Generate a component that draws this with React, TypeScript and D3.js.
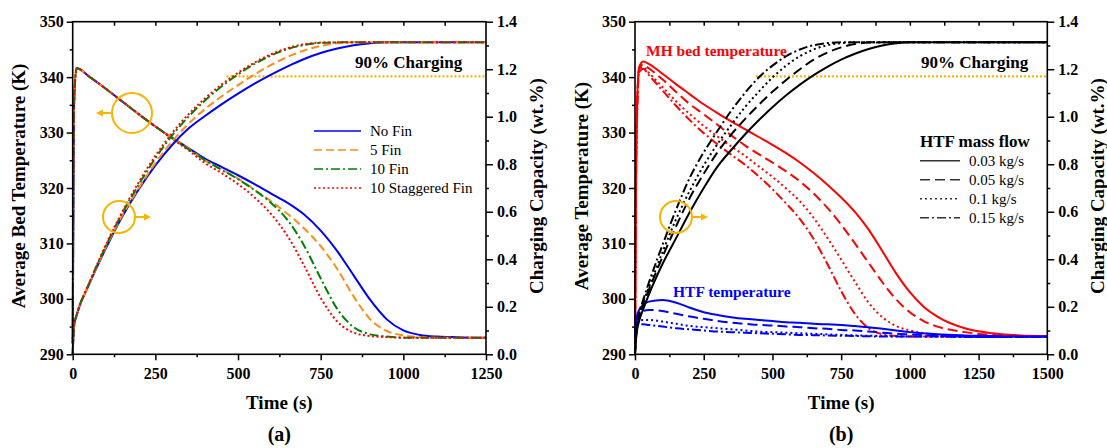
import React, { Component } from 'react';
import * as d3 from 'd3';

const W = 1107;
const H = 448;
const TOP = 21.7;
const BOTTOM = 354.3;
const FONT = '"Liberation Serif", "Times New Roman", serif';

// ---- panel (a): fin configurations ----
const timeA = [0, 4, 12, 50, 100, 150, 200, 250, 300, 350, 400, 450, 500, 550, 600, 650, 700, 750, 800, 850, 900, 950, 1000, 1050, 1100, 1150, 1200, 1250];
const finLabels = ['No Fin', '5 Fin', '10 Fin', '10 Staggered Fin'];
const tempNoFin = [292, 335, 341.6, 340.1, 337.9, 335.6, 333.3, 331.1, 329.1, 327.2, 325.3, 323.8, 322.3, 320.7, 319.0, 317.3, 315.2, 312.3, 308.6, 304.2, 299.8, 296.3, 294.3, 293.5, 293.2, 293.1, 293.0, 293.0];
const temp5Fin = [292, 335, 341.6, 340.1, 337.9, 335.6, 333.3, 331.1, 329.1, 327.1, 325.0, 323.4, 321.7, 319.7, 317.6, 315.3, 312.7, 309.5, 305.4, 300.4, 296.3, 294.2, 293.4, 293.1, 293.0, 293.0, 293.0, 293.0];
const temp10Fin = [292, 335, 341.6, 340.1, 337.9, 335.6, 333.3, 331.1, 329.0, 327.0, 325.0, 323.3, 321.6, 319.6, 317.3, 314.2, 309.6, 303.7, 298.2, 294.9, 293.6, 293.2, 293.0, 293.0, 293.0, 293.0, 293.0, 293.0];
const temp10Stag = [292, 335, 341.6, 340.1, 337.9, 335.6, 333.3, 331.1, 328.9, 326.8, 324.5, 322.7, 320.7, 318.3, 315.3, 311.3, 306.0, 300.2, 295.9, 293.9, 293.3, 293.1, 293.0, 293.0, 293.0, 293.0, 293.0, 293.0];
const capNoFin = [0, 0.12, 0.165, 0.295, 0.445, 0.58, 0.695, 0.795, 0.88, 0.95, 1.003, 1.052, 1.097, 1.139, 1.177, 1.212, 1.243, 1.268, 1.287, 1.301, 1.309, 1.313, 1.313, 1.313, 1.313, 1.313, 1.313, 1.313];
const cap5Fin = [0, 0.12, 0.165, 0.295, 0.45, 0.585, 0.70, 0.805, 0.895, 0.97, 1.032, 1.085, 1.133, 1.178, 1.218, 1.252, 1.279, 1.298, 1.309, 1.313, 1.313, 1.313, 1.313, 1.313, 1.313, 1.313, 1.313, 1.313];
const cap10Fin = [0, 0.12, 0.165, 0.30, 0.455, 0.595, 0.715, 0.825, 0.92, 1.0, 1.068, 1.127, 1.178, 1.222, 1.258, 1.285, 1.302, 1.311, 1.313, 1.313, 1.313, 1.313, 1.313, 1.313, 1.313, 1.313, 1.313, 1.313];
const cap10Stag = [0, 0.12, 0.165, 0.30, 0.46, 0.60, 0.725, 0.835, 0.93, 1.01, 1.077, 1.135, 1.185, 1.228, 1.263, 1.289, 1.305, 1.312, 1.313, 1.313, 1.313, 1.313, 1.313, 1.313, 1.313, 1.313, 1.313, 1.313];

// ---- panel (b): HTF mass flow ----
const timeB = [0, 5, 15, 30, 50, 100, 150, 200, 250, 300, 350, 400, 450, 500, 550, 600, 650, 700, 750, 800, 850, 900, 950, 1000, 1050, 1100, 1200, 1300, 1400, 1500];
const flowLabels = ['0.03 kg/s', '0.05 kg/s', '0.1 kg/s', '0.15 kg/s'];
const bed003 = [292, 330, 341.8, 342.8, 342.4, 340.6, 338.7, 336.9, 335.1, 333.5, 332.0, 330.6, 329.2, 327.8, 326.3, 324.6, 322.7, 320.6, 318.3, 315.7, 312.5, 308.6, 304.6, 301.2, 298.6, 296.8, 294.7, 293.8, 293.4, 293.3];
const bed005 = [292, 328, 341.5, 342.3, 341.6, 339.6, 337.3, 335.1, 333.3, 331.4, 329.5, 327.7, 326.1, 324.6, 323.0, 321.2, 319.0, 316.4, 313.4, 310.0, 306.5, 303.0, 299.9, 297.6, 296.0, 295.0, 294.0, 293.5, 293.3, 293.2];
const bed01 = [292, 327, 341.2, 341.8, 340.8, 338.2, 335.6, 333.3, 331.2, 329.3, 327.5, 325.8, 323.9, 322.0, 319.9, 317.6, 314.6, 311.0, 307.1, 303.1, 299.3, 296.7, 295.1, 294.3, 293.8, 293.5, 293.3, 293.2, 293.2, 293.2];
const bed015 = [292, 326, 340.8, 341.5, 340.4, 337.6, 334.8, 332.2, 329.9, 327.9, 326.0, 324.2, 322.1, 319.8, 317.2, 314.4, 310.8, 306.3, 301.4, 297.3, 294.7, 293.6, 293.3, 293.2, 293.2, 293.2, 293.2, 293.2, 293.2, 293.2];
const htf003 = [293, 296.5, 298.0, 298.9, 299.5, 299.8, 299.3, 298.4, 297.6, 297.1, 296.7, 296.4, 296.2, 296.0, 295.8, 295.7, 295.5, 295.4, 295.3, 295.1, 294.9, 294.6, 294.3, 294.0, 293.8, 293.6, 293.4, 293.3, 293.2, 293.2];
const htf005 = [293, 296, 297.3, 297.8, 298.0, 297.8, 297.3, 296.8, 296.4, 296.0, 295.7, 295.5, 295.3, 295.2, 295.0, 294.9, 294.7, 294.6, 294.4, 294.3, 294.1, 293.9, 293.7, 293.6, 293.5, 293.4, 293.2, 293.1, 293.1, 293.1];
const htf01 = [293, 295.5, 296.0, 296.2, 296.2, 295.9, 295.5, 295.1, 294.9, 294.7, 294.5, 294.3, 294.1, 294.0, 293.9, 293.8, 293.7, 293.6, 293.5, 293.4, 293.35, 293.3, 293.25, 293.2, 293.2, 293.2, 293.2, 293.1, 293.1, 293.1];
const htf015 = [293, 295.0, 295.4, 295.4, 295.3, 295.0, 294.7, 294.5, 294.3, 294.1, 294.0, 293.9, 293.8, 293.7, 293.6, 293.5, 293.45, 293.4, 293.35, 293.3, 293.25, 293.2, 293.2, 293.2, 293.2, 293.2, 293.1, 293.1, 293.1, 293.1];
const cap003 = [0, 0.08, 0.14, 0.19, 0.25, 0.38, 0.49, 0.60, 0.70, 0.79, 0.86, 0.925, 0.985, 1.04, 1.09, 1.135, 1.175, 1.21, 1.24, 1.265, 1.285, 1.30, 1.309, 1.313, 1.313, 1.313, 1.313, 1.313, 1.313, 1.313];
const cap005 = [0, 0.09, 0.15, 0.21, 0.27, 0.41, 0.54, 0.66, 0.76, 0.85, 0.925, 0.99, 1.05, 1.105, 1.155, 1.20, 1.24, 1.27, 1.292, 1.306, 1.312, 1.313, 1.313, 1.313, 1.313, 1.313, 1.313, 1.313, 1.313, 1.313];
const cap01 = [0, 0.10, 0.16, 0.22, 0.28, 0.43, 0.57, 0.69, 0.795, 0.885, 0.965, 1.04, 1.105, 1.165, 1.215, 1.255, 1.283, 1.301, 1.31, 1.313, 1.313, 1.313, 1.313, 1.313, 1.313, 1.313, 1.313, 1.313, 1.313, 1.313];
const cap015 = [0, 0.10, 0.17, 0.23, 0.30, 0.46, 0.61, 0.745, 0.85, 0.94, 1.025, 1.10, 1.165, 1.215, 1.255, 1.283, 1.301, 1.31, 1.313, 1.313, 1.313, 1.313, 1.313, 1.313, 1.313, 1.313, 1.313, 1.313, 1.313, 1.313];

const charge90 = 1.17;

const tempTicks = d3.range(290, 351, 10);
const capTicks = [0, 0.2, 0.4, 0.6, 0.8, 1.0, 1.2, 1.4];

const GOLD = '#f7b500';

export default class App extends Component {
  svgRef = React.createRef<SVGSVGElement>();

  componentDidMount() {
    this.drawChart();
  }

  render() {
    return (
      <svg
        ref={this.svgRef}
        width={W}
        height={H}
        style={{ position: 'absolute', left: 0, top: 0, background: '#fff' }}
      />
    );
  }

  drawChart() {
    const svg = d3.select(this.svgRef.current);
    svg.selectAll('*').remove();

    const styleAxis = (g: any, size: number) => {
      g.select('.domain').remove();
      g.selectAll('.tick line').attr('stroke', '#000').attr('stroke-width', 1.5);
      g.selectAll('.tick text')
        .attr('fill', '#000')
        .style('font-family', FONT)
        .style('font-weight', 'bold')
        .style('font-size', size + 'px');
    };

    const drawPanel = (p: any) => {
      const x = d3.scaleLinear().domain([0, p.tMax]).range([p.left, p.right]);
      const yT = d3.scaleLinear().domain([290, 350]).range([BOTTOM, TOP]);
      const yC = d3.scaleLinear().domain([0, 1.4]).range([BOTTOM, TOP]);
      const g = svg.append('g');

      // axes
      g.append('g')
        .attr('transform', 'translate(0,' + BOTTOM + ')')
        .call(d3.axisBottom(x).tickValues(d3.range(0, p.tMax + 1, 250)).tickSize(6).tickPadding(7).tickFormat(d3.format('d')))
        .call((s: any) => styleAxis(s, 16));
      g.append('g')
        .attr('transform', 'translate(0,' + BOTTOM + ')')
        .call(d3.axisBottom(x).tickValues(d3.range(125, p.tMax, 250)).tickSize(3).tickFormat(() => ''))
        .call((s: any) => styleAxis(s, 16));
      g.append('g')
        .attr('transform', 'translate(0,' + TOP + ')')
        .call(d3.axisTop(x).tickValues(d3.range(125, p.tMax, 125)).tickSize(-4).tickFormat(() => ''))
        .call((s: any) => styleAxis(s, 16));
      g.append('g')
        .attr('transform', 'translate(' + p.left + ',0)')
        .call(d3.axisLeft(yT).tickValues(tempTicks).tickSize(6).tickPadding(3))
        .call((s: any) => styleAxis(s, 16));
      g.append('g')
        .attr('transform', 'translate(' + p.left + ',0)')
        .call(d3.axisLeft(yT).tickValues(d3.range(295, 350, 10)).tickSize(3).tickFormat(() => ''))
        .call((s: any) => styleAxis(s, 16));
      g.append('g')
        .attr('transform', 'translate(' + p.right + ',0)')
        .call(d3.axisRight(yC).tickValues(capTicks).tickSize(7).tickPadding(4).tickFormat(d3.format('.1f')))
        .call((s: any) => styleAxis(s, 16));
      g.append('g')
        .attr('transform', 'translate(' + p.right + ',0)')
        .call(d3.axisRight(yC).tickValues([0.1, 0.3, 0.5, 0.7, 0.9, 1.1, 1.3]).tickSize(3).tickFormat(() => ''))
        .call((s: any) => styleAxis(s, 16));

      // 90% charging line
      g.append('line')
        .attr('x1', x(p.chargeFrom))
        .attr('x2', p.right)
        .attr('y1', yC(charge90))
        .attr('y2', yC(charge90))
        .attr('stroke', GOLD)
        .attr('stroke-width', 2.2)
        .attr('stroke-dasharray', '2,2');
      g.append('text')
        .attr('x', p.chargeTextX)
        .attr('y', 68)
        .style('font-family', FONT)
        .style('font-weight', 'bold')
        .style('font-size', '17px')
        .text('90% Charging');

      // curves
      p.series.forEach((s: any) => {
        const line = d3
          .line<number>()
          .x((d, i) => x(p.time[i]))
          .y((d) => (s.axis === 'T' ? yT(d) : yC(d)))
          .curve(d3.curveMonotoneX);
        g.append('path')
          .attr('d', line(s.values))
          .attr('fill', 'none')
          .attr('stroke', s.color)
          .attr('stroke-width', 2)
          .attr('stroke-dasharray', s.dash || null);
      });

      // frame
      g.append('rect')
        .attr('x', p.left)
        .attr('y', TOP)
        .attr('width', p.right - p.left)
        .attr('height', BOTTOM - TOP)
        .attr('fill', 'none')
        .attr('stroke', '#000')
        .attr('stroke-width', 1.6);

      // titles
      const title = (txt: string, tx: number, ty: number, rot: boolean, size: number) => {
        g.append('text')
          .attr('transform', 'translate(' + tx + ',' + ty + ')' + (rot ? ' rotate(-90)' : ''))
          .attr('text-anchor', 'middle')
          .attr('dominant-baseline', rot ? 'central' : 'auto')
          .style('font-family', FONT)
          .style('font-weight', 'bold')
          .style('font-size', size + 'px')
          .text(txt);
      };
      const mid = (p.left + p.right) / 2;
      title(p.yTitle, p.yTitleX, 186, true, 19);
      title('Charging Capacity (wt.%)', p.cTitleX, 186, true, 19);
      title('Time (s)', mid, 409, false, 19);
      title(p.tag, mid, 441, false, 20);

      // legend
      const lg = g.append('g');
      if (p.legendTitle) {
        lg.append('text')
          .attr('x', p.legendX)
          .attr('y', p.legendY - 19)
          .attr('dominant-baseline', 'central')
          .style('font-family', FONT)
          .style('font-weight', 'bold')
          .style('font-size', '17px')
          .text(p.legendTitle);
      }
      p.legend.forEach((l: any, i: number) => {
        const ly = p.legendY + i * 19;
        lg.append('line')
          .attr('x1', p.legendX)
          .attr('x2', p.legendX + p.legendLen)
          .attr('y1', ly)
          .attr('y2', ly)
          .attr('stroke', l.color)
          .attr('stroke-width', 1.6)
          .attr('stroke-dasharray', l.dash || null);
        lg.append('text')
          .attr('x', p.legendX + p.legendLen + 9)
          .attr('y', ly)
          .attr('dominant-baseline', 'central')
          .style('font-family', FONT)
          .style('font-size', '15px')
          .text(l.label);
      });
    };

    const circle = (cx: number, cy: number, r: number, dir: number) => {
      svg.append('circle')
        .attr('cx', cx)
        .attr('cy', cy)
        .attr('r', r)
        .attr('fill', 'none')
        .attr('stroke', GOLD)
        .attr('stroke-width', 2);
      const x1 = cx + dir * r;
      const x2 = x1 + dir * 16;
      svg.append('line')
        .attr('x1', x1)
        .attr('x2', x2 - dir * 5)
        .attr('y1', cy)
        .attr('y2', cy)
        .attr('stroke', GOLD)
        .attr('stroke-width', 2);
      svg.append('path')
        .attr('d', `M${x2},${cy} L${x2 - dir * 7},${cy - 3.5} L${x2 - dir * 7},${cy + 3.5} Z`)
        .attr('fill', GOLD);
    };

    const finColors = ['#0000ff', '#ff8c1a', '#008000', '#ff0000'];
    const finDash = [null, '8,4', '9,3,2,3', '2,2.5'];
    const finTemps = [tempNoFin, temp5Fin, temp10Fin, temp10Stag];
    const finCaps = [capNoFin, cap5Fin, cap10Fin, cap10Stag];

    drawPanel({
      left: 72.7,
      right: 486,
      tMax: 1250,
      time: timeA,
      chargeFrom: 465,
      chargeTextX: 355,
      yTitle: 'Average Bed Temperature (K)',
      yTitleX: 18,
      cTitleX: 536,
      tag: '(a)',
      series: [
        ...finTemps.map((v, i) => ({ values: v, axis: 'T', color: finColors[i], dash: finDash[i] })),
        ...finCaps.map((v, i) => ({ values: v, axis: 'C', color: finColors[i], dash: finDash[i] })),
      ],
      legendX: 314,
      legendY: 131,
      legendLen: 47,
      legend: finLabels.map((l, i) => ({ label: l, color: finColors[i], dash: finDash[i] })),
    });

    const flowDash = [null, '10,5', '2,3', '9,3,2,3'];
    const beds = [bed003, bed005, bed01, bed015];
    const htfs = [htf003, htf005, htf01, htf015];
    const caps = [cap003, cap005, cap01, cap015];

    drawPanel({
      left: 635,
      right: 1047.3,
      tMax: 1500,
      time: timeB,
      chargeFrom: 440,
      chargeTextX: 921,
      yTitle: 'Average Temperature (K)',
      yTitleX: 581,
      cTitleX: 1097,
      tag: '(b)',
      series: [
        ...beds.map((v, i) => ({ values: v, axis: 'T', color: '#ff0000', dash: flowDash[i] })),
        ...htfs.map((v, i) => ({ values: v, axis: 'T', color: '#0000ff', dash: flowDash[i] })),
        ...caps.map((v, i) => ({ values: v, axis: 'C', color: '#000', dash: flowDash[i] })),
      ],
      legendTitle: 'HTF mass flow',
      legendX: 920,
      legendY: 160.7,
      legendLen: 40,
      legend: flowLabels.map((l, i) => ({ label: l, color: '#333', dash: flowDash[i] })),
    });

    circle(132, 113, 20, -1);
    circle(119, 217, 16, 1);
    circle(676, 217, 16, 1);

    const note = (txt: string, nx: number, ny: number, color: string) => {
      svg.append('text')
        .attr('x', nx)
        .attr('y', ny)
        .attr('fill', color)
        .style('font-family', FONT)
        .style('font-weight', 'bold')
        .style('font-size', '15.5px')
        .text(txt);
    };
    note('MH bed temperature', 646, 56, '#ff0000');
    note('HTF temperature', 673, 297, '#0000ff');
  }
}
